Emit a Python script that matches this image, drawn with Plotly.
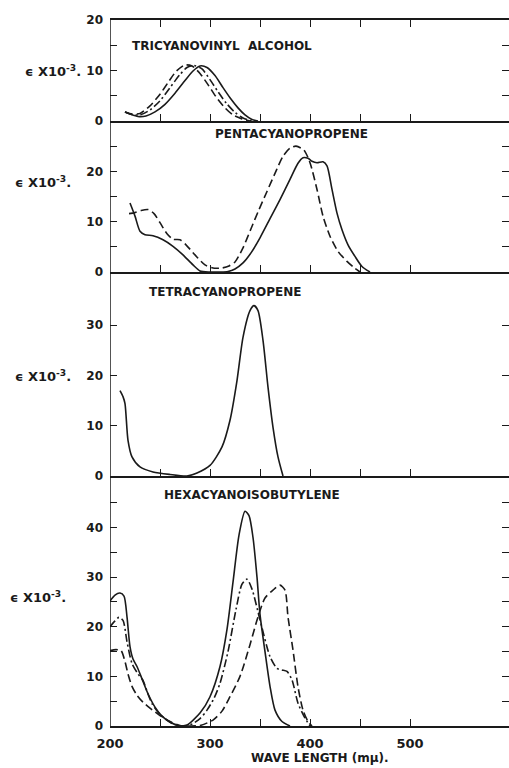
import plotly.graph_objects as go
from plotly.subplots import make_subplots

# ---- absorption spectra, wavelength in m\u03bc, epsilon x 10^-3 ----
# Tricyanovinyl alcohol
tva_solid_wl = [215, 220, 228, 236, 245, 255, 265, 275, 283, 290, 297, 305, 313, 320, 328, 335, 342, 348]
tva_solid_eps = [1.8, 1.4, 0.9, 1.0, 1.8, 3.3, 5.5, 8.0, 9.9, 10.9, 10.6, 9.0, 6.6, 4.6, 2.6, 1.2, 0.3, 0.0]
tva_dashdot_wl = [215, 222, 230, 240, 250, 260, 270, 277, 284, 292, 300, 308, 316, 325, 333, 340, 346]
tva_dashdot_eps = [1.8, 1.3, 1.2, 2.2, 4.0, 6.6, 9.2, 10.6, 11.0, 10.3, 8.2, 5.8, 3.6, 1.7, 0.6, 0.1, 0.0]
tva_dash_wl = [215, 222, 230, 240, 250, 258, 266, 275, 282, 290, 298, 306, 315, 323, 332, 340]
tva_dash_eps = [1.8, 1.4, 1.5, 3.0, 5.3, 7.6, 9.8, 11.1, 10.9, 9.4, 7.2, 4.8, 2.6, 1.2, 0.4, 0.0]

# Pentacyanopropene
pcp_solid_wl = [220, 225, 230, 235, 243, 253, 263, 273, 283, 290, 300, 310, 318, 325, 333, 341, 350,
                360, 370, 380, 388, 393, 398, 402, 407, 413, 417, 422, 427, 432, 438, 445, 452, 460]
pcp_solid_eps = [13.7, 11.1, 8.1, 7.4, 7.2, 6.4, 5.1, 3.4, 1.4, 0.2, 0.0, 0.0, 0.1, 0.6, 1.8, 3.8, 6.8,
                 10.6, 14.4, 18.4, 21.6, 22.7, 22.6, 22.0, 21.7, 21.9, 21.1, 16.4, 11.7, 8.4, 5.4, 3.1, 1.1, 0.0]
pcp_dash_wl = [219, 225, 231, 238, 244, 250, 257, 263, 270, 276, 285, 295, 303, 312, 319, 325, 333, 341,
               349, 357, 365, 373, 380, 386, 394, 400, 407, 413, 420, 428, 437, 445, 450]
pcp_dash_eps = [11.6, 11.8, 12.2, 12.4, 11.6, 9.8, 7.6, 6.5, 6.4, 5.4, 3.4, 1.4, 0.8, 0.8, 1.2, 2.0, 4.8, 8.6,
                12.4, 16.0, 19.6, 23.0, 24.6, 25.0, 24.2, 21.7, 16.4, 11.1, 7.1, 4.1, 2.1, 0.7, 0.0]

# Tetracyanopropene
tcp_wl = [210, 213, 215, 218, 222, 230, 243, 260, 277, 287, 300, 312, 320, 327, 333, 340, 344, 348,
          353, 358, 363, 368, 373]
tcp_eps = [17.0, 15.8, 14.4, 7.1, 3.8, 1.8, 0.8, 0.3, 0.0, 0.6, 2.1, 5.8, 11.1, 19.0, 27.6, 32.9, 33.9, 32.9,
           27.0, 17.7, 9.7, 3.8, 0.0]

# Hexacyanoisobutylene
hcib_solid_wl = [200, 205, 210, 214, 217, 220, 223, 227, 232, 238, 245, 252, 260, 268, 272, 277, 290, 300,
                 310, 317, 323, 329, 335, 339, 343, 347, 350, 355, 360, 365, 372, 380]
hcib_solid_eps = [25.2, 26.4, 26.8, 26.2, 22.0, 16.0, 13.5, 12.0, 9.5, 6.5, 3.8, 2.0, 0.8, 0.1, 0.0, 0.2, 2.6, 5.9,
                  12.0, 19.5, 29.0, 38.5, 43.3, 42.4, 38.0, 30.0, 22.5, 15.0, 8.0, 3.2, 0.9, 0.0]
hcib_dashdot_wl = [200, 205, 209, 213, 217, 222, 228, 233, 237, 242, 248, 255, 262, 270, 280, 290, 297, 304,
                   310, 318, 326, 332, 337, 342, 350, 360, 367, 372, 377, 382, 388, 395, 400]
hcib_dashdot_eps = [20.0, 21.2, 21.9, 21.3, 17.0, 12.6, 10.5, 9.2, 7.0, 4.5, 2.8, 1.5, 0.5, 0.0, 0.2, 1.5, 3.2, 5.6,
                    8.6, 15.0, 23.5, 28.6, 29.6, 27.6, 21.4, 14.0, 11.6, 11.3, 11.0, 9.3, 4.6, 1.6, 0.0]
hcib_dash_wl = [200, 206, 211, 215, 218, 222, 227, 233, 240, 250, 260, 270, 280, 290, 303, 312, 320, 330,
                340, 348, 355, 363, 370, 375, 378, 383, 388, 393, 398, 402]
hcib_dash_eps = [15.2, 15.4, 15.2, 13.0, 10.5, 8.0, 6.2, 4.8, 3.6, 2.1, 0.9, 0.1, 0.0, 0.1, 1.2, 3.0, 5.9, 10.0,
                 16.4, 22.0, 25.8, 27.4, 28.4, 27.4, 22.0, 15.3, 7.9, 3.2, 0.9, 0.0]

compound_names = ["TRICYANOVINYL  ALCOHOL", "PENTACYANOPROPENE", "TETRACYANOPROPENE", "HEXACYANOISOBUTYLENE"]
y_ranges = [[0, 20], [0, 30], [0, 40.6], [0, 50.4]]
y_major = [[0, 10, 20], [0, 10, 20], [0, 10, 20, 30], [0, 10, 20, 30, 40]]
y_minor = [[5, 15], [5, 15, 25], [], [5, 15, 25, 35, 45]]
x_labelled = [200, 300, 400, 500]
x_unlabelled = [250, 350, 450]

INK = "#1a1a1a"
FONT = "DejaVu Sans"
SOLID = "solid"
DASH = "8px,4px"
DASHDOT = "8px,3px,2px,3px"

fig = make_subplots(rows=4, cols=1, shared_xaxes=True, vertical_spacing=0,
                    row_heights=[101, 151, 204, 250])

curves = [
    (1, tva_solid_wl, tva_solid_eps, SOLID),
    (1, tva_dashdot_wl, tva_dashdot_eps, DASHDOT),
    (1, tva_dash_wl, tva_dash_eps, DASH),
    (2, pcp_solid_wl, pcp_solid_eps, SOLID),
    (2, pcp_dash_wl, pcp_dash_eps, DASH),
    (3, tcp_wl, tcp_eps, SOLID),
    (4, hcib_solid_wl, hcib_solid_eps, SOLID),
    (4, hcib_dashdot_wl, hcib_dashdot_eps, DASHDOT),
    (4, hcib_dash_wl, hcib_dash_eps, DASH),
]
for row, wl, eps, dash in curves:
    fig.add_trace(go.Scatter(x=wl, y=eps, mode="lines",
                             line=dict(color=INK, width=1.6, dash=dash, shape="spline", smoothing=0.7),
                             showlegend=False, hoverinfo="skip"),
                  row=row, col=1)

tick_style = dict(ticks="inside", ticklen=7, tickwidth=1.2, tickcolor=INK)
for i in range(4):
    row = i + 1
    # y axes: no axis line of their own (the left edge is drawn as a shape), ticks on both sides
    fig.update_yaxes(row=row, col=1, range=y_ranges[i], tickvals=y_major[i],
                     showline=False, mirror="ticks", showgrid=False, zeroline=False,
                     tickfont=dict(family=FONT, size=12, color=INK, weight="bold"),
                     ticklabelstandoff=6,
                     minor=dict(tickvals=y_minor[i], showgrid=False, **tick_style),
                     **tick_style)
    fig.update_xaxes(row=row, col=1, range=[200, 599], tickvals=x_labelled,
                     showline=True, linecolor=INK, linewidth=1.5,
                     mirror="ticks" if row == 1 else False,
                     showgrid=False, zeroline=False,
                     tickfont=dict(family=FONT, size=13, color=INK, weight="bold"),
                     ticklabelstandoff=5,
                     minor=dict(tickvals=x_unlabelled, showgrid=False, **tick_style),
                     **tick_style)

# left frame edge spanning all four panels
fig.add_shape(type="line", xref="x4", yref="paper", x0=200, x1=200, y0=0, y1=1,
              line=dict(color=INK, width=1.5))

# compound names inside each panel
name_pos = [(220, 14.9), (303, 27.4), (237, 36.7), (252, 46.6)]
for i, (name, (xp, yp)) in enumerate(zip(compound_names, name_pos)):
    fig.add_annotation(x=xp, y=yp, xref=f"x{i + 1}" if i else "x", yref=f"y{i + 1}" if i else "y",
                       text=name, showarrow=False, xanchor="left", yanchor="middle",
                       font=dict(family=FONT, size=12, color=INK, weight="bold"))

# epsilon label beside each panel
eps_label = "\u03f5 X10<sup>-3</sup>."
eps_pos = [(10, -0.068), (17.8, -0.093), (20, -0.093), (26, -0.105)]
for i, (yv, xp) in enumerate(eps_pos):
    fig.add_annotation(x=xp, y=yv, xref="paper", yref=f"y{i + 1}" if i else "y",
                       text=eps_label, showarrow=False, xanchor="right", yanchor="middle",
                       font=dict(family=FONT, size=13, color=INK, weight="bold"))

fig.add_annotation(x=0.527, y=-0.045, xref="paper", yref="paper",
                   text="WAVE LENGTH (m\u03bc).", showarrow=False,
                   xanchor="center", yanchor="middle",
                   font=dict(family=FONT, size=12, color=INK, weight="bold"))

fig.update_layout(width=509, height=768, margin=dict(l=110, r=0, t=20, b=42),
                  paper_bgcolor="white", plot_bgcolor="white", showlegend=False)

fig.write_html("out.html")
